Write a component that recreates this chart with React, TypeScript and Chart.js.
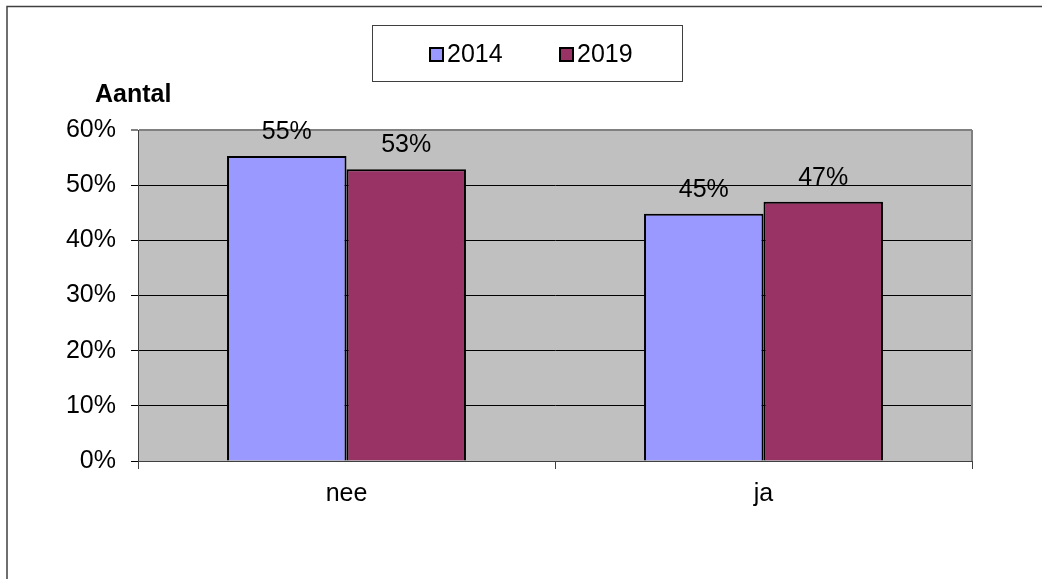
import React, { useEffect, useRef } from "react";
import { Chart, registerables } from "chart.js";

Chart.register(...registerables);

const categories = ["nee", "ja"];
const seriesNames = ["2014", "2019"];
const values2014 = [55.3, 44.8];
const values2019 = [52.9, 47.0];
const seriesColors = ["#9999FF", "#993366"];
const yTicks = [0, 10, 20, 30, 40, 50, 60];
const yAxisTitle = "Aantal";

const FONT = "'Liberation Sans', Arial, sans-serif";
const FS = 25;

export default function App() {
  const ref = useRef<HTMLCanvasElement>(null);

  useEffect(() => {
    const canvas = ref.current;
    if (!canvas) return;

    const framePlugin = {
      id: "framePlugin",
      beforeDraw(chart: any) {
        const { ctx, chartArea } = chart;
        ctx.save();
        ctx.fillStyle = "#ffffff";
        ctx.fillRect(0, 0, chart.width, chart.height);
        // outer frame
        ctx.strokeStyle = "#404040";
        ctx.lineWidth = 1.5;
        ctx.strokeRect(7, 6.5, chart.width + 20, chart.height + 20);
        // plot background
        ctx.fillStyle = "#C0C0C0";
        ctx.fillRect(chartArea.left, chartArea.top, chartArea.right - chartArea.left, chartArea.bottom - chartArea.top);
        ctx.restore();
      },
      afterDatasetsDraw(chart: any) {
        const { ctx, chartArea } = chart;
        ctx.save();
        // right gray border
        ctx.strokeStyle = "#808080";
        ctx.lineWidth = 2;
        ctx.beginPath();
        ctx.moveTo(chartArea.right, chartArea.top);
        ctx.lineTo(chartArea.right, chartArea.bottom);
        ctx.stroke();
        // data labels
        ctx.fillStyle = "#000000";
        ctx.font = `${FS}px ${FONT}`;
        ctx.textAlign = "center";
        ctx.textBaseline = "alphabetic";
        chart.data.datasets.forEach((ds: any, i: number) => {
          const meta = chart.getDatasetMeta(i);
          meta.data.forEach((el: any, j: number) => {
            const v = ds.data[j];
            ctx.fillText(`${Math.round(v)}%`, el.x, el.y - 17);
          });
        });
        ctx.restore();
      },
      afterDraw(chart: any) {
        const { ctx } = chart;
        ctx.save();
        // axis title
        ctx.fillStyle = "#000000";
        ctx.font = `bold ${FS}px ${FONT}`;
        ctx.textAlign = "left";
        ctx.textBaseline = "alphabetic";
        ctx.fillText(yAxisTitle, 95, 102);
        // legend box
        ctx.strokeStyle = "#404040";
        ctx.lineWidth = 1;
        ctx.fillStyle = "#ffffff";
        ctx.fillRect(372, 25, 311, 57);
        ctx.strokeRect(372.5, 25.5, 310, 56);
        const xs = [430, 560];
        chart.data.datasets.forEach((ds: any, i: number) => {
          const x = xs[i];
          ctx.fillStyle = seriesColors[i];
          ctx.fillRect(x, 48, 13, 13);
          ctx.strokeStyle = "#000000";
          ctx.lineWidth = 2;
          ctx.strokeRect(x, 48, 13, 13);
          ctx.fillStyle = "#000000";
          ctx.font = `${FS}px ${FONT}`;
          ctx.fillText(ds.label, x + 17, 62);
        });
        ctx.restore();
      },
    };

    const chart = new Chart(canvas, {
      type: "bar",
      data: {
        labels: categories,
        datasets: [
          {
            label: seriesNames[0],
            data: values2014,
            backgroundColor: seriesColors[0],
            borderColor: "#000000",
            borderWidth: 2,
            barPercentage: 1,
            categoryPercentage: 0.573,
          },
          {
            label: seriesNames[1],
            data: values2019,
            backgroundColor: seriesColors[1],
            borderColor: "#000000",
            borderWidth: 2,
            barPercentage: 1,
            categoryPercentage: 0.573,
          },
        ],
      },
      options: {
        responsive: false,
        animation: false,
        layout: { padding: { left: 0, right: 70, top: 130, bottom: 0 } },
        plugins: {
          legend: { display: false },
          tooltip: { enabled: false },
          title: { display: false },
        },
        scales: {
          x: {
            afterFit(scale: any) {
              scale.height = 118;
            },
            grid: {
              display: true,
              offset: true,
              drawOnChartArea: false,
              drawTicks: true,
              tickLength: 8,
              color: "#404040",
              lineWidth: 1,
            },
            border: { display: true, color: "#404040", width: 1 },
            ticks: {
              color: "#000000",
              font: { family: FONT, size: FS },
              padding: 10,
            },
          },
          y: {
            min: 0,
            max: 60,
            afterFit(scale: any) {
              scale.width = 138;
            },
            afterBuildTicks(scale: any) {
              scale.ticks = yTicks.map((v) => ({ value: v }));
            },
            grid: {
              drawTicks: true,
              tickLength: 7,
              color: (c: any) => (c.tick && c.tick.value === 60 ? "#808080" : "#000000"),
              lineWidth: (c: any) => (c.tick && c.tick.value === 60 ? 2 : 1),
            },
            border: { display: true, color: "#404040", width: 1 },
            ticks: {
              color: "#000000",
              font: { family: FONT, size: FS },
              padding: 15,
              callback: (v: any) => `${v}%`,
            },
          },
        },
      },
      plugins: [framePlugin],
    });

    return () => chart.destroy();
  }, []);

  return (
    <div style={{ position: "absolute", left: 0, top: 0, width: 1042, height: 579 }}>
      <canvas ref={ref} width={1042} height={579} style={{ display: "block" }} />
    </div>
  );
}
